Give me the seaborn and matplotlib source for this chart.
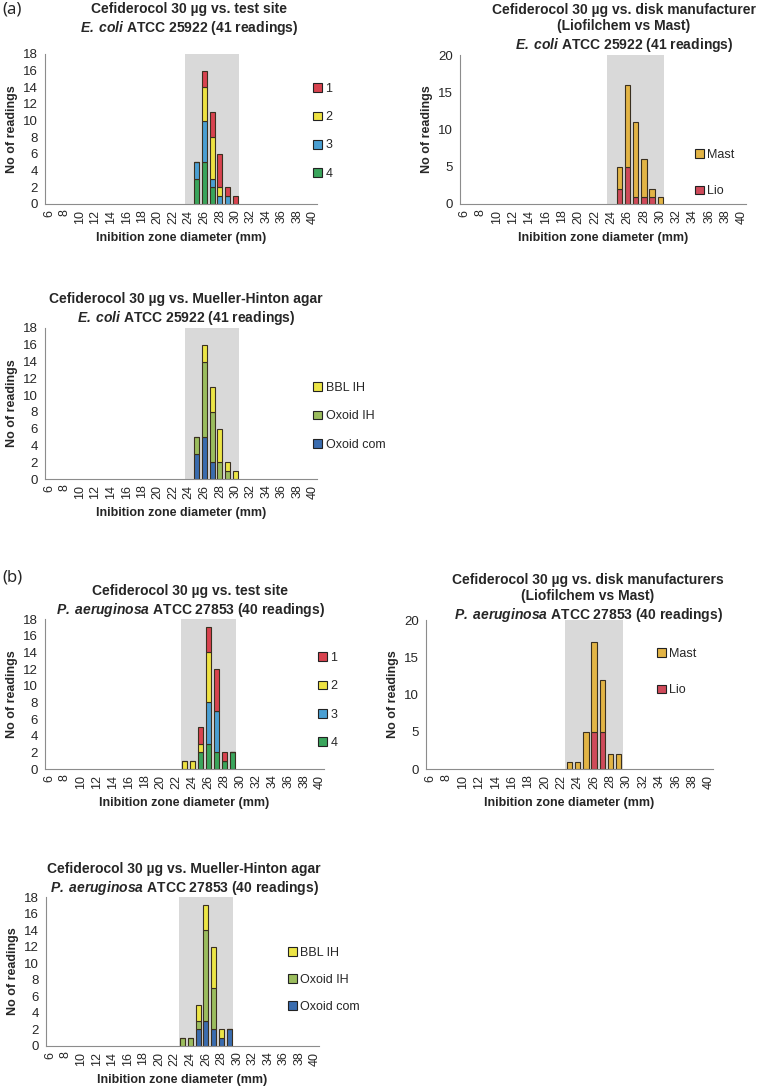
import numpy as np
import pandas as pd
import seaborn as sns
import matplotlib
matplotlib.use("Agg")
import matplotlib.pyplot as plt
from matplotlib.patches import Patch

sns.set_style("white")
plt.rcParams['font.family'] = ['Liberation Sans', 'DejaVu Sans']
plt.rcParams['mathtext.fontset'] = 'custom'
plt.rcParams['mathtext.bfit'] = 'Liberation Sans:italic:bold'
plt.rcParams['mathtext.it'] = 'Liberation Sans:italic'
plt.rcParams['mathtext.rm'] = 'Liberation Sans'

# diameters (mm) with readings
diam_a = [25, 26, 27, 28, 29, 30]
diam_b = [23, 24, 25, 26, 27, 28, 29]
qc_a = (24, 30)
qc_b = (23, 29)

# E. coli ATCC 25922 - test site
a_site_1 = [0, 2, 3, 4, 1, 1]
a_site_2 = [0, 4, 5, 1, 0, 0]
a_site_3 = [2, 5, 1, 1, 1, 0]
a_site_4 = [3, 5, 2, 0, 0, 0]
# E. coli - disk manufacturer
a_mast = [3, 11, 10, 5, 1, 1]
a_lio = [2, 5, 1, 1, 1, 0]
# E. coli - agar
a_bbl_ih = [0, 2, 3, 4, 1, 1]
a_oxoid_ih = [2, 9, 6, 2, 1, 0]
a_oxoid_com = [3, 5, 2, 0, 0, 0]

# P. aeruginosa ATCC 27853 - test site
b_site_1 = [0, 0, 2, 3, 5, 1, 0]
b_site_2 = [1, 1, 1, 6, 0, 0, 0]
b_site_3 = [0, 0, 0, 5, 5, 0, 0]
b_site_4 = [0, 0, 2, 3, 2, 1, 2]
# P. aeruginosa - disk manufacturer
b_mast = [1, 1, 5, 12, 7, 2, 2]
b_lio = [0, 0, 0, 5, 5, 0, 0]
# P. aeruginosa - agar
b_bbl_ih = [0, 0, 2, 3, 5, 1, 0]
b_oxoid_ih = [1, 1, 1, 11, 5, 0, 0]
b_oxoid_com = [0, 0, 2, 3, 2, 1, 2]

# legend order = top of the stack first
site_labels = ['1', '2', '3', '4']
site_colors = ['#d8434f', '#eee242', '#4a9fd2', '#3aa55c']
manu_labels = ['Mast', 'Lio']
manu_colors = ['#e2b445', '#cf4a5a']
agar_labels = ['BBL IH', 'Oxoid IH', 'Oxoid com']
agar_colors = ['#ece546', '#9bbd5e', '#3a6cae']

W, H = 770, 1092
fig = plt.figure(figsize=(W / 100, H / 100), dpi=100)


def px_axes(left, right, top, bottom):
    return fig.add_axes([left / W, 1 - bottom / H, (right - left) / W, (bottom - top) / H])


def long_table(diams, series, labels):
    rows = []
    for lab, vals in zip(labels, series):
        for d, n in zip(diams, vals):
            rows.append({'diam': d, 'n': n, 'group': lab})
    return pd.DataFrame(rows)


def panel(box, diams, series, labels, colors, qc, ymax, ystep, title, title_xy, leg_xy, leg_sp):
    ax = px_axes(*box)
    ax.axvspan(qc[0] - 0.5, qc[1] + 0.5, color='#d9d9d9', lw=0, zorder=0)
    df = long_table(diams, series, labels)
    # seaborn stacks the first hue level on top
    sns.histplot(data=df, x='diam', weights='n', hue='group', hue_order=labels,
                 palette=colors, multiple='stack', discrete=True, shrink=0.66,
                 edgecolor='#3a3020', linewidth=0.8, alpha=1, legend=False, ax=ax)
    ax.set_xlim(5.5, 40.5)
    ax.set_ylim(0, ymax)
    ax.set_yticks(np.arange(0, ymax + 1, ystep))
    ax.set_xticks(np.arange(6, 41, 2))
    ax.set_xticks(np.arange(5.5, 41, 1), minor=True)
    ax.tick_params(axis='x', which='major', length=0, labelsize=9, rotation=90, pad=4)
    ax.tick_params(axis='x', which='minor', length=3, color='#888888', direction='out')
    ax.tick_params(axis='y', length=3, color='#888888', direction='out', labelsize=9.5, pad=2)
    for s in ['top', 'right']:
        ax.spines[s].set_visible(False)
    for s in ['left', 'bottom']:
        ax.spines[s].set_color('#8c8c8c')
        ax.spines[s].set_linewidth(0.8)
    ax.set_xlabel('Inibition zone diameter (mm)', fontsize=9, fontweight='bold', labelpad=6)
    ax.set_ylabel('No of readings', fontsize=9, fontweight='bold', labelpad=4)
    fig.text(title_xy[0] / W, 1 - title_xy[1] / H, title, ha='center', va='top',
             fontsize=10, fontweight='bold', linespacing=1.2)
    handles = [Patch(facecolor=c, edgecolor='#222222', lw=0.8, label=l)
               for l, c in zip(labels, colors)]
    ax.legend(handles=handles, loc='upper left', frameon=False, fontsize=9,
              handlelength=0.7, handleheight=0.7, handletextpad=0.3, labelspacing=leg_sp,
              bbox_to_anchor=(leg_xy[0] / W, 1 - leg_xy[1] / H), bbox_transform=fig.transFigure,
              borderaxespad=0, borderpad=0)
    return ax


ecoli = r'$\mathbfit{E.\;coli}$ ATCC 25922 (41 readings)'
paer = r'$\mathbfit{P.\;aeruginosa}$ ATCC 27853 (40 readings)'

panel((45, 317, 54, 204), diam_a, [a_site_1, a_site_2, a_site_3, a_site_4], site_labels,
      site_colors, qc_a, 18, 2, 'Cefiderocol 30 µg vs. test site\n' + ecoli, (189, 2), (313, 83), 1.3)
panel((460, 746, 55, 204), diam_a, [a_mast, a_lio], manu_labels, manu_colors, qc_a, 20, 5,
      'Cefiderocol 30 µg vs. disk manufacturer\n(Liofilchem vs Mast)\n' + ecoli, (624, 3), (695, 149), 1.95)
panel((45, 317, 328, 479), diam_a, [a_bbl_ih, a_oxoid_ih, a_oxoid_com], agar_labels,
      agar_colors, qc_a, 18, 2, 'Cefiderocol 30 µg vs. Mueller-Hinton agar\n' + ecoli, (186, 292), (313, 382), 1.3)
panel((45, 324, 619, 769), diam_b, [b_site_1, b_site_2, b_site_3, b_site_4], site_labels,
      site_colors, qc_b, 18, 2, 'Cefiderocol 30 µg vs. test site\n' + paer, (190, 584), (318, 652), 1.3)
panel((426, 713, 620, 769), diam_b, [b_mast, b_lio], manu_labels, manu_colors, qc_b, 20, 5,
      'Cefiderocol 30 µg vs. disk manufacturers\n(Liofilchem vs Mast)\n' + paer, (588, 573), (657, 648), 1.95)
panel((46, 319, 897, 1046), diam_b, [b_bbl_ih, b_oxoid_ih, b_oxoid_com], agar_labels,
      agar_colors, qc_b, 18, 2, 'Cefiderocol 30 µg vs. Mueller-Hinton agar\n' + paer, (184, 862), (288, 947), 1.2)

fig.text(2 / W, 1 - 2 / H, '(a)', fontsize=12, family=['Noto Sans', 'DejaVu Sans'], va='top')
fig.text(2 / W, 1 - 570 / H, '(b)', fontsize=12, family=['Noto Sans', 'DejaVu Sans'], va='top')

fig.savefig('out.png', dpi=100)
